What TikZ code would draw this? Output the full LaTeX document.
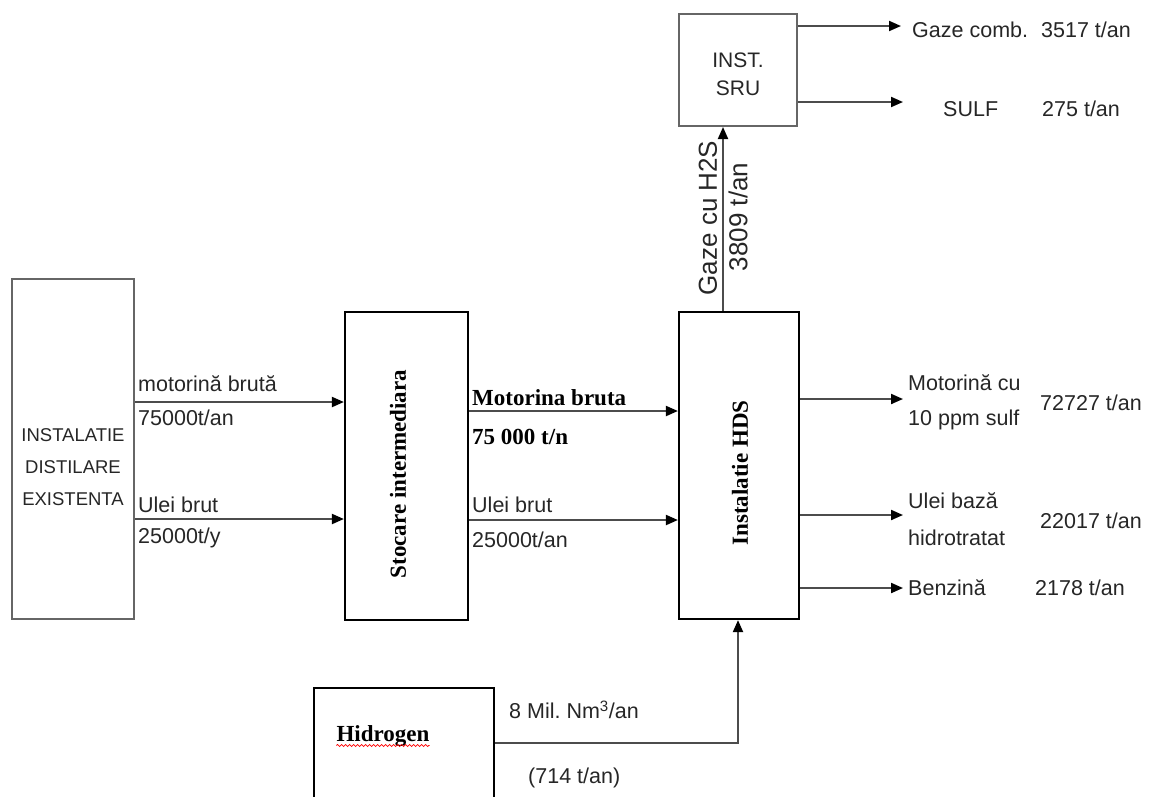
\documentclass[tikz,border=0pt]{standalone}
\usepackage{fontspec}
\setmainfont{Liberation Serif}
\setsansfont{Liberation Sans}
\usetikzlibrary{arrows.meta, decorations.pathmorphing}

\begin{document}
\begin{tikzpicture}[x=1pt, y=-1pt,
  box/.style={draw=black, line width=2.2pt, inner sep=0pt},
  greybox/.style={draw=black!60, line width=2pt, inner sep=0pt},
  flow/.style={draw=black!70, line width=2pt, -{Triangle[length=12pt, width=10pt, color=black]}},
  lbl/.style={font=\sffamily\fontsize{21.5}{24}\selectfont, text=black!85, inner sep=0pt},
  blbl/.style={font=\bfseries\fontsize{23}{27}\selectfont, text=black, inner sep=0pt}]

\clip (0,0) rectangle (1150,796);

% blocuri
\node[greybox, minimum width=122, minimum height=340] (dist) at (73,449) {};
\node[lbl, align=center, font=\sffamily\fontsize{18.5}{32}\selectfont] (distname) at (73,467) {INSTALATIE\\DISTILARE\\EXISTENTA};

\node[box, minimum width=123, minimum height=308] (stoc) at (406.5,466) {};
\node[blbl, rotate=90] (stocname) at (398,474) {Stocare intermediara};

\node[box, minimum width=120, minimum height=307] (hds) at (739,465.5) {};
\node[blbl, rotate=90] (hdsname) at (740,473) {Instalatie HDS};

\node[greybox, minimum width=118, minimum height=112] (sru) at (738,70) {};
\node[lbl, align=center, font=\sffamily\fontsize{21}{28}\selectfont] (sruname) at (738,74) {INST.\\SRU};

\node[box, minimum width=180, minimum height=150] (hyd) at (404,763) {};
\node[blbl] (hydname) at (383,736) {Hidrogen};
\draw[red, line width=0.8pt, decorate, decoration={snake, amplitude=1pt, segment length=4pt}]
  ([yshift=-4pt]hydname.base west) -- ([yshift=-4pt]hydname.base east);

% nivele
\coordinate (r1) at (0,402);
\coordinate (r2) at (0,519);
\coordinate (m1) at (0,411);
\coordinate (m2) at (0,520);
\coordinate (o1) at (903,399);
\coordinate (o2) at (903,515);
\coordinate (o3) at (903,588);
\coordinate (s1) at (901,26);
\coordinate (s2) at (903,102);
\coordinate (h) at (0,743);
\coordinate (gx) at (723,0);
\coordinate (hx) at (738,0);

\draw[flow] (dist.east |- r1) -- (stoc.west |- r1);
\draw[flow] (dist.east |- r2) -- (stoc.west |- r2);
\draw[flow] (stoc.east |- m1) -- (hds.west |- m1);
\draw[flow] (stoc.east |- m2) -- (hds.west |- m2);

\foreach \o in {o1,o2,o3}
  \draw[flow] (hds.east |- \o) -- (\o);
\foreach \s in {s1,s2}
  \draw[flow] (sru.east |- \s) -- (\s);

\draw[flow] (hds.north -| gx) -- (sru.south -| gx);
\draw[flow] (hyd.east |- h) -| (hds.south -| hx);

% etichete
\node[lbl, anchor=west] (l1a) at (138,384) {motorină brută};
\node[lbl, anchor=west] (l1b) at (138,418) {75000t/an};
\node[lbl, anchor=west] (l2a) at (138,505) {Ulei brut};
\node[lbl, anchor=west] (l2b) at (138,538) {25000t/y};

\node[blbl, anchor=west] (m1a) at (472,398) {Motorina bruta};
\node[blbl, anchor=west] (m1b) at (472,437) {75 000 t/n};
\node[lbl, anchor=west] (m2a) at (472,505) {Ulei brut};
\node[lbl, anchor=west] (m2b) at (472,540) {25000t/an};

\node[lbl, anchor=west, align=left, font=\sffamily\fontsize{21.5}{35}\selectfont] (o1a) at (908,402) {Motorină cu\\10 ppm sulf};
\node[lbl, anchor=west] (o1b) at (1040,403) {72727 t/an};
\node[lbl, anchor=west, align=left, font=\sffamily\fontsize{21.5}{37}\selectfont] (o2a) at (908,519) {Ulei bază\\hidrotratat};
\node[lbl, anchor=west] (o2b) at (1040,521) {22017 t/an};
\node[lbl, anchor=west] (o3a) at (908,588) {Benzină};
\node[lbl, anchor=west] (o3b) at (1035,588) {2178 t/an};

\node[lbl, anchor=west] (s1a) at (912,30) {Gaze comb.};
\node[lbl, anchor=west] (s1b) at (1041,30) {3517 t/an};
\node[lbl, anchor=west] (s2a) at (943,109) {SULF};
\node[lbl, anchor=west] (s2b) at (1042,109) {275 t/an};

\node[lbl, rotate=90, font=\sffamily\fontsize{26}{28}\selectfont] (gza) at (708,218) {Gaze cu H2S};
\node[lbl, rotate=90, font=\sffamily\fontsize{26}{28}\selectfont] (gzb) at (738,217) {3809 t/an};

\node[lbl, anchor=west] (ha) at (509,710) {8 Mil.\ Nm\textsuperscript{3}/an};
\node[lbl, anchor=west] (hb) at (528,778) {(714 t/an)};

\end{tikzpicture}
\end{document}
